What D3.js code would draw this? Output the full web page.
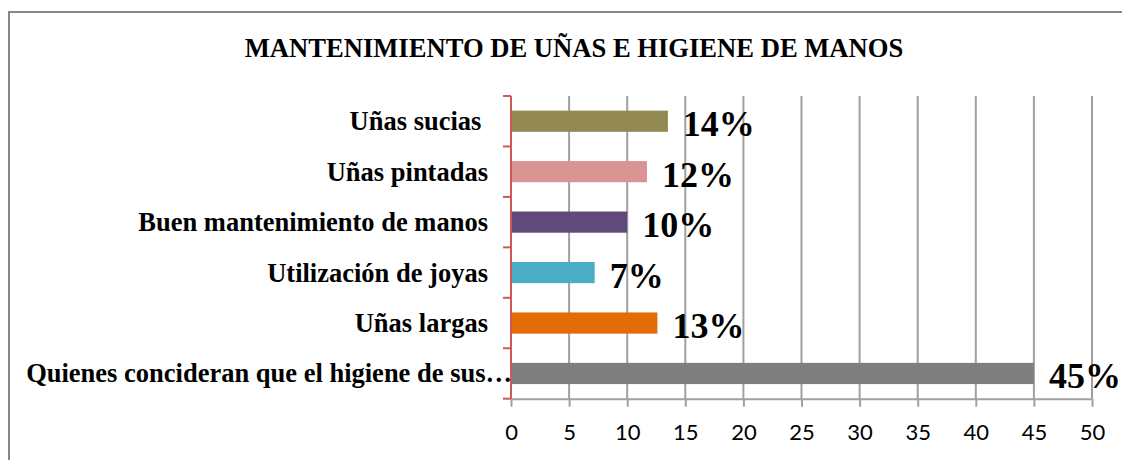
<!DOCTYPE html>
<html>
<head>
<meta charset="utf-8">
<script src="https://cdn.jsdelivr.net/npm/d3@7"></script>
<style>
  html, body { margin: 0; padding: 0; background: #fff; }
  svg { display: block; }
</style>
</head>
<body>
<div id="chart"></div>
<script>
// Données (de haut en bas)
const categories = [
  'Uñas sucias ',
  'Uñas pintadas',
  'Buen mantenimiento de manos',
  'Utilización de joyas',
  'Uñas largas',
  'Quienes concideran que el higiene de sus…'
];
const values = [13.5, 11.7, 10, 7.2, 12.6, 45];
const pctLabels = ['14%', '12%', '10%', '7%', '13%', '45%'];
const barColors = ['#938953', '#d99594', '#604a7b', '#4bacc6', '#e36c09', '#7f7f7f'];
const xTicks = [0, 5, 10, 15, 20, 25, 30, 35, 40, 45, 50];

const W = 1122, H = 460;
const SERIF = '"Liberation Serif", "Times New Roman", serif';
const SANS = 'Lato, Calibri, sans-serif';

const svg = d3.select('#chart').append('svg')
  .attr('width', W).attr('height', H)
  .attr('viewBox', `0 0 ${W} ${H}`);

// Cadre du graphique (coupé à droite et en bas)
svg.append('rect')
  .attr('x', 9).attr('y', 12)
  .attr('width', 1300).attr('height', 600)
  .attr('fill', 'none')
  .attr('stroke', '#878787')
  .attr('stroke-width', 2);

// Titre
svg.append('text')
  .attr('x', 574).attr('y', 57)
  .attr('text-anchor', 'middle')
  .attr('font-family', SERIF)
  .attr('font-size', 26.6)
  .attr('font-weight', 700)
  .attr('fill', '#000')
  .text('MANTENIMIENTO DE UÑAS E HIGIENE DE MANOS');

const plot = { left: 511, right: 1092, top: 96, bottom: 398.7 };

const x = d3.scaleLinear().domain([0, 50]).range([plot.left, plot.right]);
const y = d3.scaleBand()
  .domain(categories)
  .range([plot.top, plot.bottom])
  .paddingInner(0.58)
  .paddingOuter(0.29);

// Grille verticale
svg.append('g').selectAll('line')
  .data(xTicks.filter(d => d > 0))
  .join('line')
  .attr('x1', d => x(d)).attr('x2', d => x(d))
  .attr('y1', plot.top).attr('y2', plot.bottom)
  .attr('stroke', '#a0a0a0')
  .attr('stroke-width', 2);

// Axe X
const xAxis = svg.append('g')
  .attr('transform', `translate(0,${plot.bottom})`)
  .call(d3.axisBottom(x).tickValues(xTicks).tickSize(8).tickPadding(18).tickSizeOuter(0));
xAxis.select('.domain').attr('stroke', '#a0a0a0').attr('stroke-width', 2);
xAxis.selectAll('.tick line').attr('stroke', '#a0a0a0').attr('stroke-width', 2);
xAxis.selectAll('.tick text')
  .attr('font-family', SANS)
  .attr('font-size', 22)
  .attr('fill', '#000');

// Barres
svg.append('g').selectAll('rect')
  .data(categories)
  .join('rect')
  .attr('x', x(0))
  .attr('y', d => y(d))
  .attr('width', (d, i) => x(values[i]) - x(0))
  .attr('height', y.bandwidth())
  .attr('fill', (d, i) => barColors[i]);

// Axe Y (rouge) avec graduations aux limites des catégories
const gap = (y.step() - y.bandwidth()) / 2;
const bounds = categories.map(c => y(c) - gap).concat([plot.bottom]);
const yAxis = svg.append('g');
yAxis.append('line')
  .attr('x1', plot.left).attr('x2', plot.left)
  .attr('y1', plot.top).attr('y2', plot.bottom)
  .attr('stroke', '#cc5a58').attr('stroke-width', 2);
yAxis.selectAll('line.tk')
  .data(bounds)
  .join('line')
  .attr('class', 'tk')
  .attr('x1', plot.left - 8).attr('x2', plot.left)
  .attr('y1', d => d).attr('y2', d => d)
  .attr('stroke', '#cc5a58').attr('stroke-width', 2);

// Étiquettes de catégories
svg.append('g').selectAll('text')
  .data(categories)
  .join('text')
  .attr('x', (d, i) => i === categories.length - 1 ? 512 : 488)
  .attr('y', d => y(d) + y.bandwidth() / 2 + 9)
  .attr('text-anchor', 'end')
  .attr('font-family', SERIF)
  .attr('font-size', 26.5)
  .attr('font-weight', 700)
  .attr('fill', '#000')
  .style('white-space', 'pre')
  .text(d => d);

// Étiquettes de valeurs
svg.append('g').selectAll('text')
  .data(categories)
  .join('text')
  .attr('x', (d, i) => x(values[i]) + 15)
  .attr('y', d => y(d) + y.bandwidth() / 2 + 15)
  .attr('font-family', SERIF)
  .attr('font-size', 36)
  .attr('font-weight', 700)
  .attr('fill', '#000')
  .text((d, i) => pctLabels[i]);
</script>
</body>
</html>
